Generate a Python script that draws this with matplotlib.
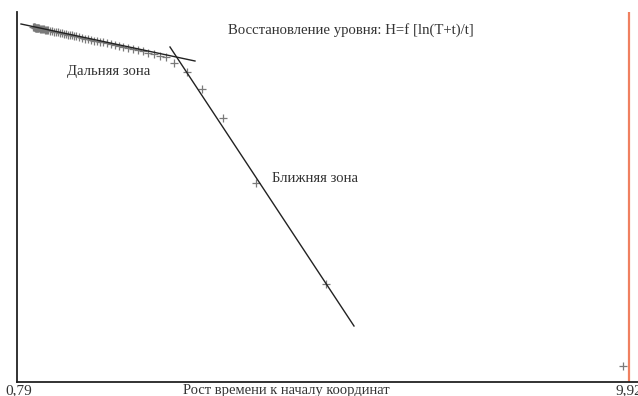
import matplotlib
matplotlib.use("Agg")
import matplotlib.pyplot as plt

plt.rcParams['font.family'] = ['Liberation Serif', 'DejaVu Serif']

# Measured points: x = ln((T+t)/t), y = level H
obs_x = [1.000, 1.007, 1.015, 1.022, 1.029, 1.037, 1.044, 1.052, 1.059, 1.067,
         1.074, 1.089, 1.104, 1.119, 1.134, 1.149, 1.164, 1.179, 1.194, 1.209,
         1.224, 1.254, 1.284, 1.314, 1.344, 1.374, 1.404, 1.434, 1.464, 1.494,
         1.523, 1.553, 1.583, 1.613, 1.643, 1.688, 1.733, 1.778, 1.823, 1.868,
         1.913, 1.957, 2.002, 2.047, 2.107, 2.167, 2.227, 2.287, 2.347, 2.421,
         2.496, 2.571, 2.646, 2.721, 2.811, 2.900, 2.990, 3.115, 3.300, 3.534,
         3.848, 4.337, 5.385, 9.830]
obs_y = [3.540, 3.539, 3.537, 3.536, 3.535, 3.534, 3.533, 3.532, 3.531, 3.530,
         3.529, 3.527, 3.525, 3.523, 3.520, 3.518, 3.516, 3.514, 3.512, 3.510,
         3.508, 3.503, 3.499, 3.495, 3.491, 3.486, 3.482, 3.478, 3.474, 3.469,
         3.465, 3.461, 3.457, 3.452, 3.448, 3.437, 3.430, 3.424, 3.418, 3.411,
         3.405, 3.398, 3.392, 3.386, 3.377, 3.369, 3.360, 3.352, 3.338, 3.328,
         3.317, 3.306, 3.296, 3.280, 3.267, 3.255, 3.242, 3.183, 3.093, 2.917,
         2.630, 1.977, 0.970, 0.150]

# Straight-line fits for the two zones
far_x = [0.82, 3.424]
far_y = [3.57, 3.20]
near_x = [3.05, 5.804]
near_y = [3.34, 0.55]

# Total time marker
t_total = 9.92

tick_vals = [0.79, 9.92]
tick_labels = ['0,79', '9,92']

fig = plt.figure(figsize=(6.38, 3.96), dpi=100)
ax = fig.add_axes([17 / 638, 14.5 / 396, 621 / 638, 369.5 / 396])

ax.plot(obs_x, obs_y, linestyle='none', marker='+', color='#7a7a7a',
        markersize=6, markeredgewidth=0.9)
ax.plot(far_x, far_y, color='#222222', linewidth=1.0)
ax.plot(near_x, near_y, color='#222222', linewidth=1.0)
ax.axvline(t_total, color='#f08060', linewidth=1.6)

ax.set_xlim(0.76, 10.055)
ax.set_ylim(-0.005, 3.69)

for s in ['top', 'right']:
    ax.spines[s].set_visible(False)
for s in ['left', 'bottom']:
    ax.spines[s].set_color('#222222')
    ax.spines[s].set_linewidth(1.3)

ax.set_yticks([])
ax.set_xticks(tick_vals)
ax.set_xticklabels(tick_labels)
ax.tick_params(axis='x', length=0, pad=2, labelsize=11, labelcolor='#333333')

ax.set_xlabel('Рост времени к началу координат', fontsize=10.5, color='#333333')
ax.xaxis.set_label_coords(0.433, -0.008, transform=ax.transAxes)
ax.xaxis.label.set_verticalalignment('top')

ax.text(3.918, 3.51, 'Восстановление уровня: H=f [ln(T+t)/t]',
        fontsize=10.6, color='#333333', ha='left', va='center')
ax.text(1.508, 3.09, 'Дальняя зона', fontsize=10.6, color='#333333',
        ha='left', va='center')
ax.text(4.577, 2.03, 'Ближняя зона', fontsize=10.6, color='#333333',
        ha='left', va='center')

fig.savefig('out.png', dpi=100)
